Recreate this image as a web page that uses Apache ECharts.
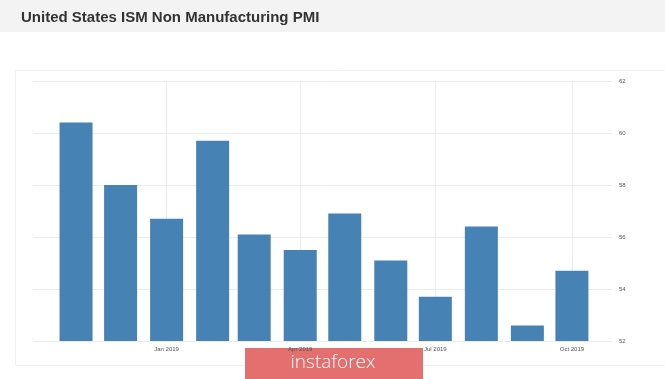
<!DOCTYPE html>
<html>
<head>
<meta charset="utf-8">
<script src="https://cdn.jsdelivr.net/npm/echarts@6/dist/echarts.min.js"></script>
<style>
html,body{margin:0;padding:0;background:#fff;}
#c{width:665px;height:379px;}
</style>
</head>
<body>
<div id="c"></div>
<script>
const titleText = 'United States ISM Non Manufacturing PMI';
const dates = ['2018-11-01','2018-12-01','2019-01-01','2019-02-01','2019-03-01','2019-04-01','2019-05-01','2019-06-01','2019-07-01','2019-08-01','2019-09-01','2019-10-01'];
const values = [60.4, 58.0, 56.7, 59.7, 56.1, 55.5, 56.9, 55.1, 53.7, 56.4, 52.6, 54.7];
const monthNames = ['Jan','Feb','Mar','Apr','May','Jun','Jul','Aug','Sep','Oct','Nov','Dec'];
const xRange = ['2018-10-03', '2019-10-28'];
const watermark = 'instaforex';

const DAY = 86400000;
const ts = d => +echarts.time.parse(d);
const xMin = ts(xRange[0]);
const xMax = ts(xRange[1]);

const chart = echarts.init(document.getElementById('c'), null, {renderer:'canvas'});
chart.setOption({
  animation: false,
  backgroundColor: '#ffffff',
  title: {
    text: titleText,
    left: 16, top: 5,
    textStyle: {fontFamily: 'Liberation Sans', fontSize: 15, fontWeight: 'bold', color: '#333333'}
  },
  graphic: [
    {type:'rect', shape:{x:0,y:0,width:665,height:32}, style:{fill:'#f3f3f3'}, z:-10},
    {type:'rect', shape:{x:15.5,y:70.5,width:660,height:295}, style:{fill:'none', stroke:'#f0f0f0', lineWidth:1}, z:-9},
    {type:'group', z:100, children:[
      {type:'rect', shape:{x:245,y:348,width:178,height:31}, style:{fill:'#e46f6f'}},
      {type:'text', x:333, y:363, style:{text:watermark, fill:'#ffffff', fontFamily:'Open Sans', fontWeight:300, fontSize:19, align:'center', verticalAlign:'middle'}}
    ]}
  ],
  grid: {left: 33, right: 53, top: 81, bottom: 38, containLabel: false},
  xAxis: [{
    type: 'time',
    min: xMin,
    max: xMax,
    minInterval: 92 * DAY,
    maxInterval: 92 * DAY,
    axisLine: {show: false},
    axisTick: {show: false},
    splitLine: {show: true, showMinLine: false, showMaxLine: false, lineStyle: {color: '#ececec', width: 1}},
    axisLabel: {
      fontFamily: 'Liberation Sans', fontSize: 6, color: '#555555', margin: 5,
      formatter: function (v) { const d = new Date(v); return monthNames[d.getMonth()] + ' ' + d.getFullYear(); }
    }
  }, {
    type: 'value',
    position: 'bottom',
    min: xMin,
    max: xMax,
    show: false
  }],
  yAxis: {
    type: 'value',
    position: 'right',
    min: 52, max: 62, interval: 2,
    axisLine: {show: false},
    axisTick: {show: false},
    splitLine: {show: true, lineStyle: {color: '#ececec', width: 1}},
    axisLabel: {fontFamily: 'Liberation Sans', fontSize: 6, color: '#555555', margin: 7}
  },
  series: [{
    type: 'bar',
    xAxisIndex: 1,
    data: dates.map((d, i) => [ts(d), values[i]]),
    barWidth: 33,
    itemStyle: {color: '#4682b4'}
  }]
});
</script>
</body>
</html>
